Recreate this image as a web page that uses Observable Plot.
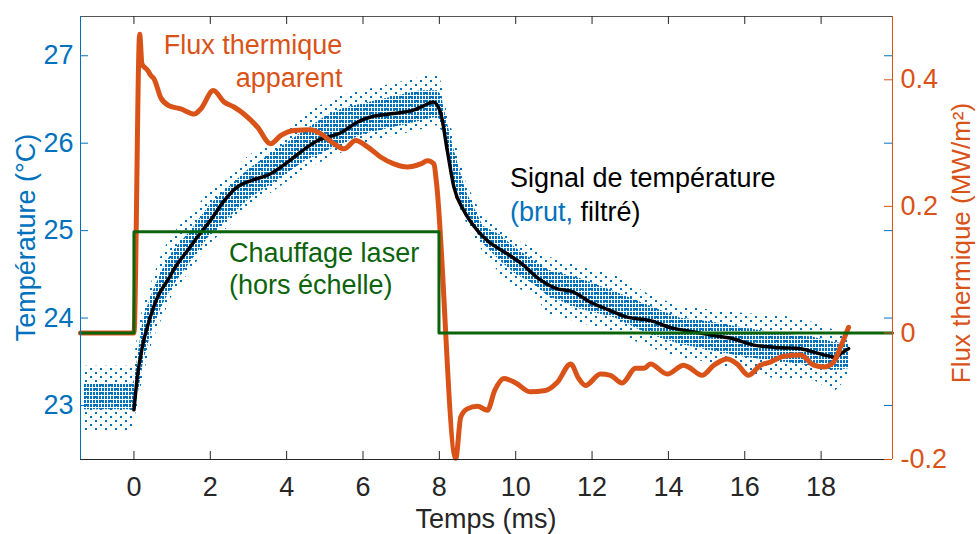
<!DOCTYPE html>
<html><head><meta charset="utf-8">
<script src="https://cdn.jsdelivr.net/npm/d3@7"></script>
<script src="https://cdn.jsdelivr.net/npm/@observablehq/plot@0.6"></script>
<style>html,body{margin:0;padding:0;background:#fff;} #chart{width:979px;height:534px;overflow:hidden}</style>
</head><body><div id="chart"></div>
<script>
// ---------- data ----------
const xTicks = [0, 2, 4, 6, 8, 10, 12, 14, 16, 18];
const tempTicks = [23, 24, 25, 26, 27];
const tempTickLabels = ["23", "24", "25", "26", "27"];
const fluxTicks = [-0.2, 0, 0.2, 0.4];
const fluxTickLabels = ["-0.2", "0", "0.2", "0.4"];

// raw temperature cloud (envelopes, °C)
const rawTime    = [-1.30, -0.02, 0.02, 0.10, 0.25, 0.50, 0.75, 1.00, 1.50, 2.00, 2.50, 3.00, 3.50, 4.00, 4.50, 5.00, 5.50, 6.00, 6.50, 7.00, 7.50, 7.95, 8.05, 8.20, 8.40, 8.70, 9.15, 9.60, 10.00, 10.50, 10.85, 11.70, 12.60, 13.45, 14.30, 15.20, 16.05, 16.95, 17.80, 18.35, 18.72];
const rawOuterLo = [22.70, 22.70, 22.85, 23.00, 23.35, 23.75, 24.00, 24.25, 24.55, 24.85, 25.05, 25.25, 25.40, 25.55, 25.70, 25.80, 25.90, 26.00, 26.05, 26.10, 26.15, 26.20, 26.15, 25.90, 25.40, 25.10, 24.75, 24.50, 24.35, 24.25, 24.05, 23.94, 23.84, 23.67, 23.55, 23.48, 23.37, 23.29, 23.29, 23.15, 23.32];
const rawOuterHi = [23.45, 23.45, 23.55, 23.80, 24.15, 24.45, 24.75, 24.95, 25.20, 25.45, 25.65, 25.85, 26.00, 26.15, 26.35, 26.45, 26.55, 26.60, 26.65, 26.70, 26.75, 26.80, 26.70, 26.35, 26.05, 25.55, 25.15, 25.05, 24.90, 24.78, 24.70, 24.58, 24.49, 24.28, 24.13, 24.09, 24.05, 24.03, 23.95, 23.86, 23.82];
const rawCoreLo  = [22.95, 22.95, 22.95, 23.10, 23.50, 23.90, 24.15, 24.35, 24.65, 24.95, 25.15, 25.35, 25.50, 25.65, 25.80, 25.90, 26.00, 26.10, 26.15, 26.20, 26.25, 26.30, 26.25, 26.00, 25.55, 25.20, 24.85, 24.65, 24.50, 24.38, 24.25, 24.10, 24.00, 23.82, 23.70, 23.62, 23.55, 23.50, 23.45, 23.40, 23.42];
const rawCoreHi  = [23.25, 23.25, 23.30, 23.55, 24.00, 24.30, 24.55, 24.75, 25.00, 25.30, 25.50, 25.70, 25.85, 26.00, 26.15, 26.30, 26.40, 26.45, 26.50, 26.55, 26.60, 26.60, 26.55, 26.25, 25.90, 25.45, 25.05, 24.95, 24.80, 24.65, 24.55, 24.45, 24.30, 24.15, 24.00, 23.95, 23.88, 23.82, 23.78, 23.72, 23.70];

// filtered temperature (°C)
const tempTime = [0, 0.09, 0.22, 0.40, 0.62, 0.88, 1.14, 1.40, 1.70, 2.01, 2.36, 2.71, 3.06, 3.58, 4.02, 4.37, 4.81, 5.42, 5.85, 6.20, 6.64, 7.34, 7.60, 7.84, 8.03, 8.21, 8.38, 8.64, 9.00, 9.30, 9.65, 10.13, 10.60, 11.05, 11.50, 11.96, 12.40, 12.92, 13.53, 14.06, 14.67, 15.19, 15.71, 16.24, 16.94, 17.46, 17.81, 18.16, 18.38, 18.51, 18.72];
const tempFiltered = [22.95, 23.33, 23.67, 23.97, 24.24, 24.43, 24.62, 24.77, 24.95, 25.12, 25.34, 25.50, 25.57, 25.65, 25.78, 25.90, 26.03, 26.12, 26.24, 26.30, 26.33, 26.38, 26.43, 26.47, 26.35, 25.91, 25.50, 25.23, 25.00, 24.87, 24.77, 24.63, 24.45, 24.34, 24.30, 24.18, 24.10, 24.01, 23.97, 23.89, 23.84, 23.80, 23.76, 23.69, 23.66, 23.65, 23.61, 23.57, 23.55, 23.59, 23.65];

// apparent heat flux (MW/m²)
const fluxTime = [-1.40, 0.00, 0.15, 0.21, 0.36, 0.44, 0.53, 0.70, 0.92, 1.23, 1.58, 1.75, 2.08, 2.36, 2.62, 2.88, 3.24, 3.58, 3.85, 4.19, 4.63, 4.89, 5.24, 5.50, 5.81, 6.12, 6.46, 6.81, 7.16, 7.51, 7.69, 7.86, 7.92, 8.43, 8.56, 8.73, 9.00, 9.26, 9.45, 9.69, 10.00, 10.37, 10.78, 11.09, 11.44, 11.65, 11.83, 12.22, 12.48, 12.79, 13.14, 13.36, 13.53, 13.97, 14.40, 14.53, 14.88, 15.19, 15.54, 15.80, 16.10, 16.41, 16.67, 17.02, 17.46, 17.81, 18.07, 18.33, 18.51, 18.72];
const fluxValue = [0, 0, 0.472, 0.425, 0.415, 0.407, 0.401, 0.372, 0.359, 0.354, 0.346, 0.354, 0.383, 0.365, 0.357, 0.346, 0.325, 0.299, 0.312, 0.320, 0.321, 0.315, 0.299, 0.291, 0.304, 0.294, 0.278, 0.267, 0.262, 0.267, 0.272, 0.267, 0.240, -0.198, -0.133, -0.120, -0.116, -0.122, -0.091, -0.072, -0.079, -0.093, -0.091, -0.078, -0.049, -0.072, -0.083, -0.065, -0.067, -0.079, -0.056, -0.056, -0.049, -0.065, -0.051, -0.054, -0.067, -0.051, -0.041, -0.049, -0.067, -0.051, -0.046, -0.037, -0.035, -0.051, -0.054, -0.046, -0.022, 0.009];

// laser heating (off scale, drawn in flux units)
const laserTime = [-1.40, 0.00, 7.99, 19.87];
const laserValue = [0, 0.16, 0, 0];

// annotations
const noteText  = ["Flux thermique", "apparent", "Signal de température", "(brut,", "filtré)", "Chauffage laser", "(hors échelle)"];
const noteTime  = [5.46, 5.46, 9.85, 9.85, 11.70, 2.49, 2.49];
const noteTemp  = [27.118, 26.736, 25.594, 25.214, 25.214, 24.74, 24.376];
const noteColor = ["#D95319", "#D95319", "#000000", "#0072BD", "#000000", "#0b640b", "#0b640b"];
const noteAnchor = ["end", "end", "start", "start", "start", "start", "start"];

// ---------- chart ----------
const BLUE = "#0072BD", ORANGE = "#D95319", GREEN = "#0b640b", DARK = "#262626";
const FONT = "'Liberation Sans', Arial, Helvetica, sans-serif";
const X_DOMAIN = [-1.4, 19.87];
const T_DOMAIN = [22.382, 27.449];
const FLUX_DOMAIN = [-0.2, 0.5];
const fluxToT = f => T_DOMAIN[0] + (f - FLUX_DOMAIN[0]) * (T_DOMAIN[1] - T_DOMAIN[0]) / (FLUX_DOMAIN[1] - FLUX_DOMAIN[0]);

const W = 979, H = 534, ML = 80, MR = 87, MT = 16, MB = 75;
const FW = W - ML - MR, FH = H - MT - MB;

const rawBand = rawTime.map((t, i) => ({t, outerLo: rawOuterLo[i], outerHi: rawOuterHi[i], coreLo: rawCoreLo[i], coreHi: rawCoreHi[i]}));
const tempRows = tempTime.map((t, i) => ({t, T: tempFiltered[i]}));
const fluxRows = fluxTime.map((t, i) => ({t, flux: fluxValue[i]}));
const laserRows = laserTime.map((t, i) => ({t, v: laserValue[i]}));
const notes = noteText.map((text, i) => ({text, t: noteTime[i], T: noteTemp[i], color: noteColor[i], anchor: noteAnchor[i]}));
const fluxTickT = fluxTicks.map(fluxToT);

const svg = Plot.plot({
  width: W, height: H,
  marginLeft: ML, marginRight: MR, marginTop: MT, marginBottom: MB,
  style: {fontFamily: FONT, fontSize: "27px", background: "#fff", overflow: "visible"},
  x: {domain: X_DOMAIN, label: null},
  y: {domain: T_DOMAIN, label: null},
  color: {type: "identity"},
  marks: [
    Plot.areaY(rawBand, {x: "t", y1: "outerLo", y2: "outerHi", fill: "url(#rawSparse)"}),
    Plot.areaY(rawBand, {x: "t", y1: "coreLo", y2: "coreHi", fill: "url(#rawDense)"}),
    Plot.line(tempRows, {x: "t", y: "T", stroke: "#000", strokeWidth: 3.5, curve: "monotone-x"}),
    Plot.line(fluxRows, {x: "t", y: d => fluxToT(d.flux), stroke: ORANGE, strokeWidth: 5, curve: "monotone-x", strokeLinejoin: "round"}),
    Plot.line(laserRows, {x: "t", y: d => fluxToT(d.v), stroke: GREEN, strokeWidth: 3, curve: "step-after"}),
    // frame
    Plot.ruleY([T_DOMAIN[1]], {stroke: "#555", strokeWidth: 1}),
    Plot.ruleY([T_DOMAIN[0]], {stroke: DARK, strokeWidth: 1}),
    Plot.ruleX([X_DOMAIN[0]], {stroke: BLUE, strokeWidth: 1}),
    Plot.ruleX([X_DOMAIN[1]], {stroke: ORANGE, strokeWidth: 1}),
    // inward ticks
    Plot.tickX(xTicks, {x: d => d, stroke: DARK, insetTop: FH - 8}),
    Plot.tickX(xTicks, {x: d => d, stroke: DARK, insetBottom: FH - 8}),
    Plot.tickY(tempTicks, {y: d => d, stroke: BLUE, insetRight: FW - 8}),
    Plot.tickY(tempTicks, {y: d => d, stroke: BLUE, insetLeft: FW - 8}),
    Plot.tickY(fluxTickT, {y: d => d, stroke: ORANGE, insetLeft: FW - 8}),
    // tick labels
    Plot.axisX(xTicks, {anchor: "bottom", tickSize: 0, tickPadding: 17, fontSize: 27, fill: DARK, label: null}),
    Plot.axisY(tempTicks, {anchor: "left", tickSize: 0, tickPadding: 7, fontSize: 27, fill: BLUE, label: null,
      tickFormat: d => tempTickLabels[tempTicks.indexOf(d)]}),
    Plot.axisY(fluxTickT, {anchor: "right", tickSize: 0, tickPadding: 8, fontSize: 27, fill: ORANGE, label: null,
      tickFormat: d => fluxTickLabels[fluxTickT.indexOf(d)]}),
    // annotations
    Plot.text(notes.filter(d => d.anchor === "end"), {x: "t", y: "T", text: "text", fill: "color", textAnchor: "end", fontSize: 27}),
    Plot.text(notes.filter(d => d.anchor === "start"), {x: "t", y: "T", text: "text", fill: "color", textAnchor: "start", fontSize: 27})
  ]
});

// patterns that render the dense raw samples (quantized rows of small dots)
const root = d3.select(svg);
const defs = root.insert("defs", ":first-child");
const ps = defs.append("pattern").attr("id", "rawSparse").attr("patternUnits", "userSpaceOnUse").attr("width", 10).attr("height", 8);
ps.append("rect").attr("x", 0).attr("y", 0).attr("width", 2).attr("height", 2).attr("fill", BLUE);
ps.append("rect").attr("x", 5).attr("y", 4).attr("width", 2).attr("height", 2).attr("fill", BLUE);
const pd = defs.append("pattern").attr("id", "rawDense").attr("patternUnits", "userSpaceOnUse").attr("width", 3).attr("height", 4);
pd.append("rect").attr("x", 0).attr("y", 0).attr("width", 2).attr("height", 3).attr("fill", BLUE);

// axis titles
root.append("text").attr("transform", `translate(26,${MT + FH / 2}) rotate(-90)`).attr("dy", "0.35em")
  .attr("text-anchor", "middle").attr("fill", BLUE).attr("font-size", 27).attr("font-family", FONT).text("Température (°C)");
root.append("text").attr("transform", `translate(961,243) rotate(-90)`).attr("dy", "0.35em")
  .attr("text-anchor", "middle").attr("fill", ORANGE).attr("font-size", 26).attr("font-family", FONT).text("Flux thermique (MW/m²)");
root.append("text").attr("x", ML + FW / 2).attr("y", 528)
  .attr("text-anchor", "middle").attr("fill", DARK).attr("font-size", 27).attr("font-family", FONT).text("Temps (ms)");

document.getElementById("chart").appendChild(svg);
</script></body></html>
